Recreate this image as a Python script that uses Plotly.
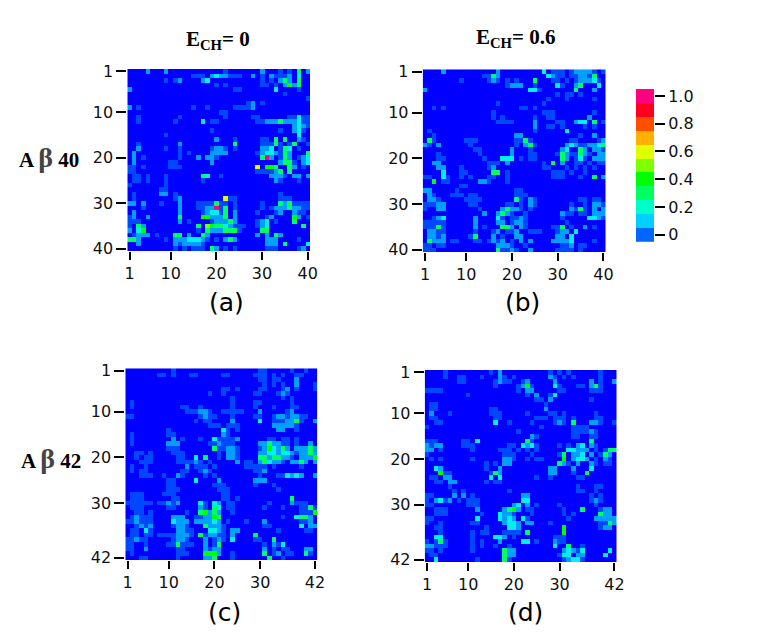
import plotly.graph_objects as go

# contact maps, one string per residue. "." = no contact, 0-9 and T = probability 0 .. 1.0
# rows are split in blocks of 5 so columns are easier to read, short rows are empty at the end
map_a = [
    "....1 ...1. ..... ..... .0... ....1 ...0. 0.3.1",
    "..... ..... ....0 00.12 11000 ..1.0 .1000 1.2..",
    "..... ...0. 01... .12.. ..... ....0 .0.13 1.3..",
    "..... ..... ..... ....0 .0... ....0 0.0.1 413..",
    "1.... ..... ..... ..... ...00 ..... ..2.. ..0..",
    "..... ..... ..... ..... ..... ..... ....0 .....",
    "..... ..... ..... ..... ..... ..... ..... ....0",
    "..... ..... ..... ..... ..... .01.0 ..... .....",
    "1.0.. ..... ....0 ..0.. ...00 001.. ..... .....",
    "..... ..... ..... ..... 00... ..... ..... .....",
    "..0.. ..... .0... ..... .0... ..00. ..... 00200",
    "..0.. ..... 0.... .2.00 ..... ...00 11131 11200",
    "..... ..... ..... ..... ..... ..... ..... .1210",
    "..... ..... ..... ...0. ..... ..... ...0. .120.",
    "..... ...0. ..... ..... ..... ..... ..... ..2..",
    "..... ..... ..... ....1 ...0. ....0 0.3.3 ..10.",
    "..0.. ..... .1... ..... ...3. ....0 0030. 03..0",
    "..1.. ...0. .0... ...01 10.0. ....1 12.03 2.0..",
    ".1... ..... .0.0. ...11 11... ...01 22103 1...3",
    ".1.0. ..... .0... 1.110 ..... ....3 T1.03 1.012",
    ".1... ....0 0.... ...1. ..... ..... ...13 30.12",
    "00.0. ....0 00... ..... ..... ...6. 443.. 31.0.",
    "00... ..... ..... ..... ..... ...00 0013. 3....",
    ".00.0 ...0. ..... .32.. 0.... ..... .1110 .11.1",
    ".00.0 ...0. ..... .0... ..... ..... ..10. ..0..",
    "0.... ...0. ..... ..... ..... ..... ..... .....",
    "..... ..00. ..... ..... ..... ..... ..... .....",
    ".0... ..11. 0.... ..... ..... ..... ...0. .....",
    ".0... ..... 01... ..... .600. ..... ...00 0....",
    "11.1. ..0.. .1... 00003 00.0. ....0 ...31 30000",
    "...0. ..... .1... 0011T 03.0. ....0 .0111 31100",
    ".1... ..... .1... .0122 03.1. ...0. ..01. .100.",
    "01..1 ..... .3... .4411 13.1. ..... 01... .41.0",
    "000.. ..... .1.0. ...01 1131. ...01 2.0.. .3...",
    "0.31. ..... ..... 3.543 32100 0..01 2.... ...3.",
    "1.24. ..... ..... 0.311 13330 ....3 3.... .....",
    ".0111 .0... 33.1. .31.. ..... ...1. 1.31. .....",
    "331.. ...0. 11122 210.0 .131. ..... 111.. ..0..",
    "..1.. ..... 10111 10... ..... ..... 111.3 ....2",
    "..... ..... 0.0.0 00.31 .0.0. ..... 000.. ..01.",
]

map_b = [
    "....1 ..... ..... .1... ..... .2.00 0.011 110.0",
    "..... ..... ...00 31... ..... ..210 0.001 103..",
    "..... ...0. ....0 10.0. 0...3 ...00 .0.01 1120.",
    "..... ..... ..... ...01 11..0 ....2 0..13 ...2.",
    "1.... ..... ..... ..... ...22 0.... ...3. ..1..",
    "..... ..... ..... ..... ..... ....0 .00.0 .....",
    "..... ..... ..... ..... ..... ..0.. .0... ..0..",
    "..... ..... ..... .0... ..... .0... ..... .....",
    "..0.0 ..... ..... ..... .00.0 ..... ..... .....",
    "..... ..... ..... 0.... ..... .000. ..... ..0..",
    "..... ..... ..... 0.0.. ....0 ..00. ..... .1...",
    "..... ..... ..... .0000 ....1 ....0 0..12 2.3.0",
    "..... ..... ..... ..... ....1 ..00. 0.... 0.0..",
    ".0... ..... ..... ..... ....0 ..... .2... .....",
    "..0.. ..... ..... ..... 11... ..... ....0 ..1..",
    ".30.. ....0 00... ..... 0030. ..... ..00. ...01",
    "10.1. ..... 0.... ..... 0.130 ..... .1210 01123",
    "..... ..... .00.. ....1 ...0. ..... 12..3 1.110",
    "...0. ..... ..0.. ....1 ...00 ....0 31003 10.11",
    "...00 ..... ...0. ..222 .0.00 ..... 31.02 0.111",
    "..11. ..... ....0 00.1. ..... .0.3. 1..00 .0.00",
    "...11 ...0. ....0 1.... ..... .00.. .0.0. 0.0..",
    "....2 ...00 ..... 33.0. ..... ...00 0.0.. 0....",
    "00..2 0..0. 0...0 0..0. ..... ...00 0...0 ..3.1",
    "..4.0 0.... ..110 ...0. ..... ..... ..... .....",
    "..... ...00 ..... ..... ..... ..... ..... .....",
    "11... ..0.. ..... ..... 00... ..... ..... .....",
    ".10.. .000. 00... ..... 000.. ..... ..... .....",
    ".110. ....0 000.. ..... 30.10 ..... ....0 0.00.",
    "00011 ..... 00... ...00 .0.10 ..... ..0.. 0.110",
    "0..11 ..... ..0.. ..131 10.0. ..... ..103 0.1.1",
    "..... ..... ...1. .1310 ..0.. ..... 100.0 0.111",
    "..012 ..... .1... .20.0 010.. ..... 0.... .2210",
    "00000 ..... .1... .11.0 110.. ..... .0... .....",
    "00030 ..... .1.0. ..331 .10.. ...00 3.0.. 1.0..",
    ".1100 ..... .0... 01.00 1..00 0...0 11.2. .....",
    ".1101 ..... 03... 1.0.. 11... ....1 1.2.. .....",
    ".3111 .00.. .00.0 101.0 .1.1. ...11 112.. ..0..",
    "00.00 ..... ..... .1110 ..0.. ..... 001.0 0....",
    "000.. ..... ..... .3001 0..1. ....0 000.0 .....",
]

map_c = [
    "..... ..... 0.... ..... ..... ....0 0.... .0..0 ..",
    "..... ..00. 0...0 0.... .00.. ...00 0.0.0 ..00. ..",
    "..... ..... ..... ..... ..... ....0 0.00. ..1.. ..",
    "..... ..... ..... ..... ..... ..... 0.0.0 ..1.. .0",
    "..... ..... ..... ..... .00.0 ....0 0...0 1.0.. .0",
    "..... ..... ..... ...0. .0... ...00 ...01 0.... ..",
    "..... ..... ..... ..... ...0. ..... ....0 .0... ..",
    ".0... ..... ..... ..... ...0. ...00 ..... .0... ..",
    ".0... ..... ..00. .0... ...0. ...0. ..0.. .00.. ..",
    "..... ..... ...00 0110. .0000 0...1 ..... 01... ..",
    "00... ..... ..... .0100 ...0. ...00 ..011 01100 ..",
    "..... ..... ..... 0.00. ...1. ....2 ..000 1130. .1",
    "..... ..... ..... ...00 0.000 ..... ..111 110.. ..",
    "..... ....0 ..... ..... .20.0 ..... ...11 ..0.. ..",
    ".0... ....0 0.... ..... .10.. ..... ..... ..... ..",
    ".0... ..... 1.0.. .0..2 00001 ..... .00.0 0.0.. ..",
    ".0... ....1 11... ...00 1000. ....1 13110 0.0.. 1.",
    "..... ....0 00... ....3 00110 ....0 14213 1.111 31",
    "..00. 0.... 000.. ..... 0.110 ....1 12212 21011 31",
    "..0.0 0.... .00.. 2.3.. 0.110 ....3 31331 10.11 14",
    "...00 0.... .0000 10.0. ....1 .00.1 32110 .1131 .1",
    ".0..0 ..... ...1. 000.0 ..... .0000 0.0.. ...0. ..",
    ".0.00 ..... ..00. .010. ..... ...00 1.... ..... ..",
    "...00 0..0. .10.. ..0.0 ..... ....0 ...00 2121. .1",
    "..... ....0 0.... 2.... 1.... ...11 1.... ..... ..",
    "..... ....0 0.... ....0 00... ...0. ..0.. ..... ..",
    "..... ....0 00... ..... 000.. ..... ...0. ..... ..",
    ".000. ...00 0.... ..... .00.. ..... ..... ..... ..",
    ".000. ..... 00... ..... .00.0 ..... ..... .3... ..",
    "00000 0.001 01... .20.2 1.00. ..... .0... .1000 ..",
    ".000. ....0 0.... .10.3 2.00. ..... 0...0 ...00 30",
    "..00. 0.... ...0. .3413 1..0. ..... ..... ...00 04",
    ".0100 0.... 111.. 00114 3.... ..... ....0 ..233 1.",
    "00100 0.... 2111. 11112 1.0.. .0... 1.... ...00 1.",
    "..010 1.... 0110. ..311 10... ..... 00... ...2. 11",
    ".00.2 0.... .1100 ...22 10.11 ..... ...0. ....0 0.",
    ".00.0 0.000 01110 .3011 00.1. ...3. ..... ..... ..",
    "00100 ..... 0110. ..1.0 10.2. ...00 ..3.. ..... ..",
    "00..0 ....0 03000 ..1.0 3.... ..... 0.102 ..... ..",
    "00..1 ..... .00.. ..101 1.... ..... 1.0.0 0...1 1.",
    ".0... ..... .000. ..444 1..0. ..... 3.01. 00..3 0.",
    "...00 ..... .0... ..113 ...0. ..... .3..0 ..... ..",
]

map_d = [
    "....0 ..... ....0 .1... ..... ..0.0 .0... ...0. ..",
    "....0 ..00. ..0.. .10.0 ..... ..10. 0.0.. ...0. ..",
    "..... ..00. ..... 0100. .01.. ...1. ..... .1.0. .1",
    "..... ..... ..... 0.... 0140. ...20 ...00 .130. ..",
    "0000. ..... ..... ..... 0.11. ....0 0.... .000. ..",
    "..... ....0 ..... ..... ..0.1 ..02. ..... ..... ..",
    "..... ..... ..... ..... ....0 0.1.. ..... .0... ..",
    ".00.. ..... ..... ..... ..... .0... ..... ..... ..",
    ".00.. ..... ....0 0.... ..... .1... ..... ..... ..",
    ".1... 0.... ....0 00... ..0.. ..00. 0.... ..0.. ..",
    ".00.. ..... ..... 00... ....0 00.00 0.0.. ..00. ..",
    "..00. ..... ..... 2..0. ...0. ...01 0.3.. .110. .0",
    "0.... ..... ..... ..... ..... 0.... ..000 0.... ..",
    "..... ..... ..... ..... 0.... ..... ..000 010.. ..",
    "..... ..... ..... ..... ...10 ..... ..00. .00.. ..",
    "000.. ...00 .2... ..... ..30. ..... ..... .3... ..",
    "1011. ...00 0.... ...00 .2120 ....0 .0.12 .10.. ..",
    "11.0. ..... 0.... .000. 0.0.0 ..... .2211 1.0.0 33",
    "0.... ..... ..... ..000 ...0. ....0 3.112 .1.03 1.",
    ".0.0. ..... 0.... ..110 ..0.0 0.... 4.122 1.0.1 0.",
    "..... ..... ...0. 0.11. ..... ....3 10.1. .10.0 0.",
    "..21. ..... ...0. .1... ..... ..11. ..1.. .2... ..",
    "...40 0.... ....0 31... ..... ..11. ..0.. 3.... ..",
    ".00.1 1.... ....2 .2... ....0 ..0.. ...00 ..... ..",
    "..00. 11... ...0. 00... ..... ..... ..... ..... ..",
    "..... 0.... ..... ..... ..... ..... ...0. ..00. ..",
    "..... .0.0. ..... ...0. ..... ..... ...00 ..0.. ..",
    "00... .1.1. 0.... ..... .11.. ..... ..... .0.0. ..",
    "0.120 1.0.0 00... ..... .22.. ..... ..... .010. ..",
    "00... ....0 00... ....1 2.1.0 ....0 ..... ..0.. ..",
    "..000 ..... .1... ..134 1.00. ..... 0...3 ...01 1.",
    "..000 ..... ..0.. .2110 ...0. ..... 0.0.. ...31 1.",
    "00... ..... .2... .2121 .20.. ..... .0... ..111 11",
    "0..0. ..... 00... ..122 1.11. ..0.. ..... ...00 31",
    "..00. ..... ...0. ...22 1.... ..... 4.... ...01 1.",
    "...0. ..... 0.00. ..000 0.3.. ..... 4.... ..... ..",
    "..22. ..... 0.... 221.0 ..... ...00 0.... ..... ..",
    "0.030 ..... 0.0.. .1... .22.0 ...10 0.... ..... ..",
    "11000 ..... 0.0.. 0..0. ..... ...2. .3..0 ..... ..",
    "00.0. ..... 0.... ..311 ..... ..... 12102 ..... 2.",
    ".00.. ..... ..... ..311 ..... ....0 22.11 ....2 ..",
    "..2.. ..... .0... ..30. ..... ..... 01220 ..... ..",
]

ticks_40 = [1, 10, 20, 30, 40]
ticks_42 = [1, 10, 20, 30, 42]
codes = ".0123456789T"
# the small cells read softer than the key in the scan, so the two low ends differ
map_colors = ["#0000ff", "#0048ff", "#00a0ff", "#00f0f0", "#00ff60", "#00ff00",
              "#80ff00", "#e0ff00", "#ffb000", "#ff5000", "#ff0020", "#ff0080"]
key_colors = ["#0000ff", "#0066ff", "#00d0ff", "#00ffc8", "#00ff60", "#00ff00",
              "#80ff00", "#e0ff00", "#ffb000", "#ff5000", "#ff0020", "#ff0080"]
legend_levels = [[0], [1], [2], [3], [4], [5], [6], [7], [8], [9], [10]]
legend_ticks = [0, 2, 4, 6, 8, 10]
legend_labels = ["0", "0.2", "0.4", "0.6", "0.8", "1.0"]

W, H = 763, 640


def parse(rows, n):
    # back to a numeric matrix of level indices, -1 is the empty background
    out = []
    for row in rows:
        row = row.replace(" ", "").ljust(n, ".")[:n]
        out.append([codes.index(ch) - 1 for ch in row])
    return out


def dom_x(x0, x1):
    return [x0 / W, x1 / W]


def dom_y(y0, y1):
    return [1 - y1 / H, 1 - y0 / H]


def stepped(colors):
    steps = []
    for i, col in enumerate(colors):
        steps += [[i / len(colors), col], [(i + 1) / len(colors), col]]
    return steps


tick_font = dict(family="DejaVu Sans", size=16, color="#111111")
axis_common = dict(showgrid=False, zeroline=False, showline=False, ticks="outside",
                   tickcolor="black", tickwidth=2, tickfont=tick_font)

panels = [
    (map_a, 40, ticks_40, (127.3, 310), (69, 251)),
    (map_b, 40, ticks_40, (422.7, 605.7), (69.3, 252)),
    (map_c, 42, ticks_42, (125.3, 317.3), (368.3, 560)),
    (map_d, 42, ticks_42, (424.7, 616.7), (370, 562)),
]

fig = go.Figure()
layout = {}
for i, (rows, n, ticks, px, py) in enumerate(panels, start=1):
    idx = list(range(1, n + 1))
    fig.add_trace(go.Heatmap(x=idx, y=idx, z=parse(rows, n), coloraxis="coloraxis",
                             xaxis=f"x{i}", yaxis=f"y{i}", hoverongaps=False))
    layout[f"xaxis{i}"] = dict(domain=dom_x(*px), anchor=f"y{i}", range=[0.5, n + 0.5],
                               tickvals=ticks, ticklen=8, **axis_common)
    layout[f"yaxis{i}"] = dict(domain=dom_y(*py), anchor=f"x{i}", range=[n + 0.5, 0.5],
                               tickvals=ticks, ticklen=10, **axis_common)

# colour key, drawn as a one column heatmap
fig.add_trace(go.Heatmap(z=legend_levels, coloraxis="coloraxis2", xaxis="x5", yaxis="y5"))
layout["xaxis5"] = dict(domain=dom_x(636, 654), anchor="y5", visible=False)
layout["yaxis5"] = dict(domain=dom_y(89, 241.7), anchor="x5", side="right", tickvals=legend_ticks,
                        ticktext=legend_labels, ticklen=10, **axis_common)


def note(text, x, y, font):
    return dict(text=text, x=x / W, y=1 - y / H, xref="paper", yref="paper", showarrow=False,
                xanchor="center", yanchor="middle", font=font)


serif = dict(family="Liberation Serif", size=21, color="black")
panel_font = dict(family="DejaVu Sans", size=25, color="black")
beta = "<span style='color:#444444;font-size:28px'>β</span>"
annotations = [
    note("<b>E<sub>CH</sub>= 0</b>", 218, 40, serif),
    note("<b>E<sub>CH</sub>= 0.6</b>", 516, 38, serif),
    note(f"<b>A {beta} 40</b>", 49, 158, serif),
    note(f"<b>A {beta} 42</b>", 51, 458, serif),
    note("(a)", 226, 302, panel_font),
    note("(b)", 522, 302, panel_font),
    note("(c)", 224, 612, panel_font),
    note("(d)", 525, 612, panel_font),
]

fig.update_layout(width=W, height=H, autosize=False,
                  margin=dict(l=0, r=0, t=0, b=0, autoexpand=False),
                  paper_bgcolor="white", plot_bgcolor="white", showlegend=False,
                  coloraxis=dict(colorscale=stepped(map_colors), cmin=-1, cmax=11, showscale=False),
                  coloraxis2=dict(colorscale=stepped(key_colors), cmin=-1, cmax=11, showscale=False),
                  annotations=annotations, **layout)

fig.write_html("out.html", config=dict(displayModeBar=False),
               post_script="document.body.style.margin='0';")
